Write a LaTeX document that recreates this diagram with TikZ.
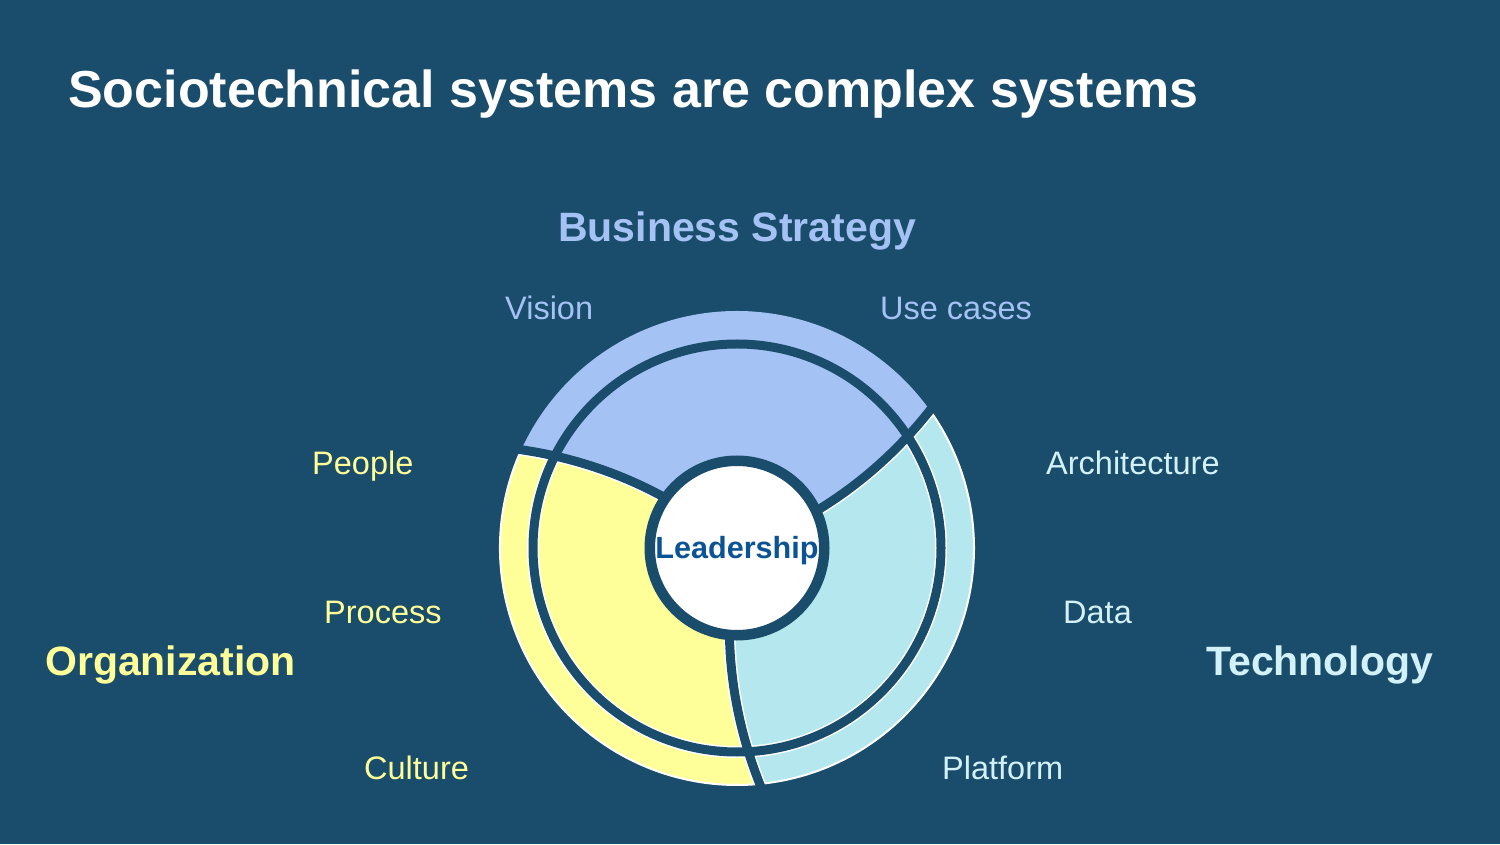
\documentclass[tikz,border=0pt]{standalone}
\usepackage{fontspec}
\setmainfont{Liberation Sans}
\definecolor{slidebg}{HTML}{1A4D6B}
\definecolor{stratblue}{HTML}{A4C2F4}
\definecolor{orgyellow}{HTML}{FFFF99}
\definecolor{techcyan}{HTML}{B5E7EE}
\definecolor{techtext}{HTML}{D2F1F8}
\definecolor{leadblue}{HTML}{0B5394}
\tikzset{
  heading/.style={font=\bfseries\fontsize{41}{48}\selectfont, anchor=base west, inner sep=0pt},
  facet/.style={font=\fontsize{32.5}{38}\selectfont, anchor=base west, inner sep=0pt},
  divider/.style={draw=slidebg, line width=9pt},
  halo/.style={draw=white, line width=12pt},
}
\begin{document}
\begin{tikzpicture}[x=1pt,y=1pt]
      \fill[slidebg] (0,0) rectangle (1500,844);
      \useasboundingbox (0,0) rectangle (1500,844);
      \node[anchor=base west, inner sep=0pt, text=white,
        font=\bfseries\fontsize{52}{60}\selectfont] (title) at (68,736)
        {Sociotechnical systems are complex systems};
      % the three rings
      \begin{scope}[shift={(737,296)}]
        \fill[stratblue, save path=\stratpetal] (0,0)
          -- plot[variable=\r, domain=87:237, samples=20] ({25+(\r-87)*0.07}:\r)
          arc[start angle=35.5, end angle=155.5, radius=237]
          -- plot[variable=\r, domain=237:87, samples=20] ({145+(\r-87)*0.07}:\r) -- cycle;
        \filldraw[fill=orgyellow, draw=white, line width=2pt, save path=\orgpetal] (0,0)
          -- plot[variable=\r, domain=87:237, samples=20] ({145+(\r-87)*0.07}:\r)
          arc[start angle=155.5, end angle=275.5, radius=237]
          -- plot[variable=\r, domain=237:87, samples=20] ({265+(\r-87)*0.07}:\r) -- cycle;
        \filldraw[fill=techcyan, draw=white, line width=2pt, save path=\techpetal] (0,0)
          -- plot[variable=\r, domain=87:237, samples=20] ({265+(\r-87)*0.07}:\r)
          arc[start angle=275.5, end angle=395.5, radius=237]
          -- plot[variable=\r, domain=237:87, samples=20] ({385+(\r-87)*0.07}:\r) -- cycle;
        \begin{scope}
          \clip[use path=\orgpetal];
          \draw[halo] (0,0) circle[radius=204];
          \draw[halo] plot[variable=\r, domain=87:250, samples=20] ({145+(\r-87)*0.07}:\r);
          \draw[halo] plot[variable=\r, domain=87:250, samples=20] ({265+(\r-87)*0.07}:\r);
        \end{scope}
        \begin{scope}
          \clip[use path=\techpetal];
          \draw[halo] (0,0) circle[radius=204];
          \draw[halo] plot[variable=\r, domain=87:250, samples=20] ({265+(\r-87)*0.07}:\r);
          \draw[halo] plot[variable=\r, domain=87:250, samples=20] ({25+(\r-87)*0.07}:\r);
        \end{scope}
        \draw[divider] (0,0) circle[radius=204];
        \draw[divider] plot[variable=\r, domain=87:250, samples=20] ({25+(\r-87)*0.07}:\r);
        \draw[divider] plot[variable=\r, domain=87:250, samples=20] ({145+(\r-87)*0.07}:\r);
        \draw[divider] plot[variable=\r, domain=87:250, samples=20] ({265+(\r-87)*0.07}:\r);
        \draw[fill=white, draw=slidebg, line width=10.5pt] (0,0) circle[radius=87.25];
        \node[anchor=base, inner sep=0pt, text=leadblue,
          font=\bfseries\fontsize{30.6}{36}\selectfont] (lead) at (0,-11) {Leadership};
      \end{scope}
      % headings
      \node[heading, text=stratblue] (strategy) at (558,602) {Business Strategy};
      \node[heading, text=orgyellow] (org) at (45,168) {Organization};
      \node[heading, text=techtext] (tech) at (1206,168) {Technology};
      % facets
      \node[facet, text=stratblue] (vision) at (505,524) {Vision};
      \node[facet, text=stratblue] (usecases) at (880,524) {Use cases};
      \node[facet, text=orgyellow] (people) at (312,369) {People};
      \node[facet, text=orgyellow] (process) at (324,220) {Process};
      \node[facet, text=orgyellow] (culture) at (364,64) {Culture};
      \node[facet, text=techtext] (arch) at (1046,369) {Architecture};
      \node[facet, text=techtext] (data) at (1063,220) {Data};
      \node[facet, text=techtext] (platform) at (942,64) {Platform};
    \end{tikzpicture}
\end{document}
